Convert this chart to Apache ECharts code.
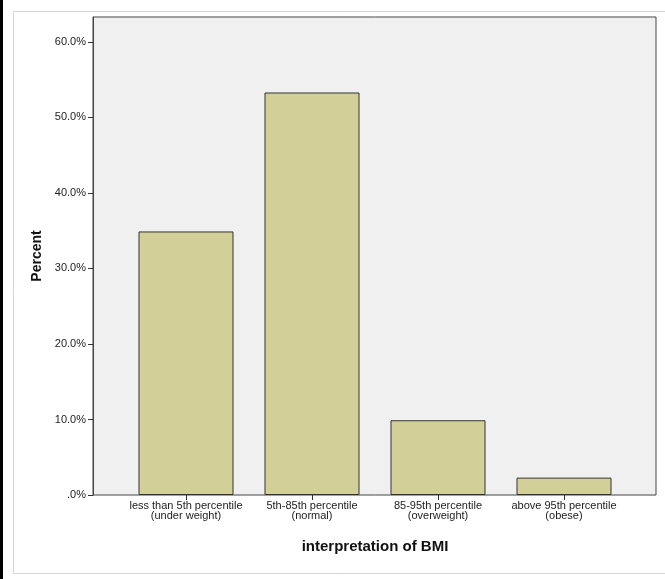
<!DOCTYPE html>
<html>
<head>
<meta charset="utf-8">
<script src="https://cdn.jsdelivr.net/npm/echarts@6/dist/echarts.min.js"></script>
<style>
html,body{margin:0;padding:0;background:#fff;}
#chart{width:665px;height:579px;}
</style>
</head>
<body>
<div id="chart"></div>
<script>
const categories = [
  "less than 5th percentile\n(under weight)",
  "5th-85th percentile\n(normal)",
  "85-95th percentile\n(overweight)",
  "above 95th percentile\n(obese)"
];
const percentValues = [34.9, 53.3, 9.9, 2.3];
const yTickValues = [0, 10, 20, 30, 40, 50, 60];
const yTickLabels = [".0%", "10.0%", "20.0%", "30.0%", "40.0%", "50.0%", "60.0%"];

const FONT = "Liberation Sans, Arial, sans-serif";
const chart = echarts.init(document.getElementById('chart'), null, {renderer: 'canvas'});
const option = {
  animation: false,
  backgroundColor: '#ffffff',
  textStyle: {fontFamily: FONT},
  graphic: [
    {type: 'rect', shape: {x: 0, y: 0, width: 3, height: 579}, style: {fill: '#000'}, z: 100},
    {type: 'line', shape: {x1: 13.5, y1: 11.5, x2: 665, y2: 11.5}, style: {stroke: '#d4d4d4', lineWidth: 1}},
    {type: 'line', shape: {x1: 13.5, y1: 11.5, x2: 13.5, y2: 573.5}, style: {stroke: '#d4d4d4', lineWidth: 1}},
    {type: 'line', shape: {x1: 13.5, y1: 573.5, x2: 665, y2: 573.5}, style: {stroke: '#d4d4d4', lineWidth: 1}}
  ],
  grid: [
    {left: 93, right: 9, top: 17, bottom: 84, show: true, backgroundColor: '#f0f0f0', borderColor: '#444', borderWidth: 1, containLabel: false},
    {left: 123, right: 38, top: 17, bottom: 84, containLabel: false}
  ],
  xAxis: [
    {gridIndex: 0, type: 'value', show: false, min: 0, max: 1},
    {
      gridIndex: 1, type: 'category', data: categories,
      axisLine: {show: false},
      axisTick: {show: true, alignWithLabel: true, length: 5, lineStyle: {color: '#333'}},
      axisLabel: {fontSize: 11, color: '#222', lineHeight: 10, margin: 6, fontFamily: FONT, interval: 0},
      name: 'interpretation of BMI', nameLocation: 'middle', nameGap: 44,
      nameTextStyle: {fontSize: 15, fontWeight: 'bold', color: '#111', fontFamily: FONT}
    }
  ],
  yAxis: [
    {
      gridIndex: 0, type: 'value', min: 0, max: 63.3, interval: 10,
      axisLine: {show: true, lineStyle: {color: '#444'}},
      axisTick: {show: true, length: 5, lineStyle: {color: '#333'}},
      splitLine: {show: false},
      axisLabel: {
        fontSize: 11, color: '#222', margin: 7, fontFamily: FONT, showMaxLabel: false,
        formatter: function (v) { const i = yTickValues.indexOf(v); return i >= 0 ? yTickLabels[i] : ''; }
      },
      name: 'Percent', nameLocation: 'middle', nameGap: 49,
      nameTextStyle: {fontSize: 14, fontWeight: 'bold', color: '#111', fontFamily: FONT}
    },
    {gridIndex: 1, type: 'value', min: 0, max: 63.3, show: false}
  ],
  series: [{
    type: 'bar', xAxisIndex: 1, yAxisIndex: 1,
    data: percentValues, barWidth: 95,
    itemStyle: {color: '#d3cf98', borderColor: '#333', borderWidth: 1}
  }]
};
chart.setOption(option);
</script>
</body>
</html>
